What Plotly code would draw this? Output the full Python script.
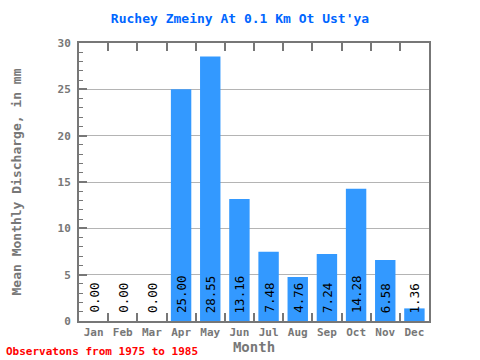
import plotly.graph_objects as go

months = ["Jan", "Feb", "Mar", "Apr", "May", "Jun", "Jul", "Aug", "Sep", "Oct", "Nov", "Dec"]
discharge = [0.00, 0.00, 0.00, 25.00, 28.55, 13.16, 7.48, 4.76, 7.24, 14.28, 6.58, 1.36]
labels = ["%.2f" % v for v in discharge]

FONT = "DejaVu Sans Mono"
AX = "#777777"

fig = go.Figure()
fig.add_trace(go.Bar(x=months, y=discharge, marker=dict(color="#3399ff", line=dict(width=0)),
                     hoverinfo="x+y"))

for m, v, t in zip(months, discharge, labels):
    fig.add_annotation(x=m, y=0, text=t, textangle=-90, showarrow=False,
                       xanchor="center", yanchor="bottom", yshift=6,
                       font=dict(family=FONT, size=12.5, color="black"))

fig.add_annotation(xref="paper", yref="paper", x=-0.215, y=-0.08, xanchor="left", yanchor="top",
                   text="<b>Observatons from 1975 to 1985</b>", showarrow=False,
                   font=dict(family=FONT, size=11, color="#ff0000"))

fig.update_layout(
    width=480, height=360,
    margin=dict(l=79, r=51, t=43, b=39),
    plot_bgcolor="white", paper_bgcolor="white",
    bargap=0.3, showlegend=False,
    title=dict(text="<b>Ruchey Zmeiny At 0.1 Km Ot Ust'ya</b>", x=0.5, xanchor="center",
               y=0.95, yanchor="middle",
               font=dict(family=FONT, size=13, color="#0066ff")),
    xaxis=dict(title=dict(text="<b>Month</b>", font=dict(family=FONT, size=14, color=AX), standoff=0),
               tickfont=dict(family=FONT, size=11, color=AX, weight="bold"), tickangle=0,
               showline=True, linecolor=AX, linewidth=2, mirror="allticks",
               ticks="inside", tickson="boundaries", ticklen=8, tickwidth=2, tickcolor=AX,
               showgrid=False, automargin=False),
    yaxis=dict(title=dict(text="<b>Mean Monthly Discharge, in mm</b>", font=dict(family=FONT, size=13, color=AX), standoff=33),
               tickfont=dict(family=FONT, size=11, color=AX, weight="bold"), ticklabelstandoff=4,
               range=[0, 30], dtick=5, tick0=0,
               showline=True, linecolor=AX, linewidth=2, mirror=True,
               ticks="inside", ticklen=8, tickwidth=2, tickcolor=AX,
               minor=dict(dtick=1, ticks="inside", ticklen=4, tickwidth=1, tickcolor=AX),
               showgrid=True, gridcolor="#b4b4b4", gridwidth=1, zeroline=False, automargin=False),
)

fig.write_html("out.html", post_script="document.body.style.margin='0';",
               config={"displayModeBar": False})
